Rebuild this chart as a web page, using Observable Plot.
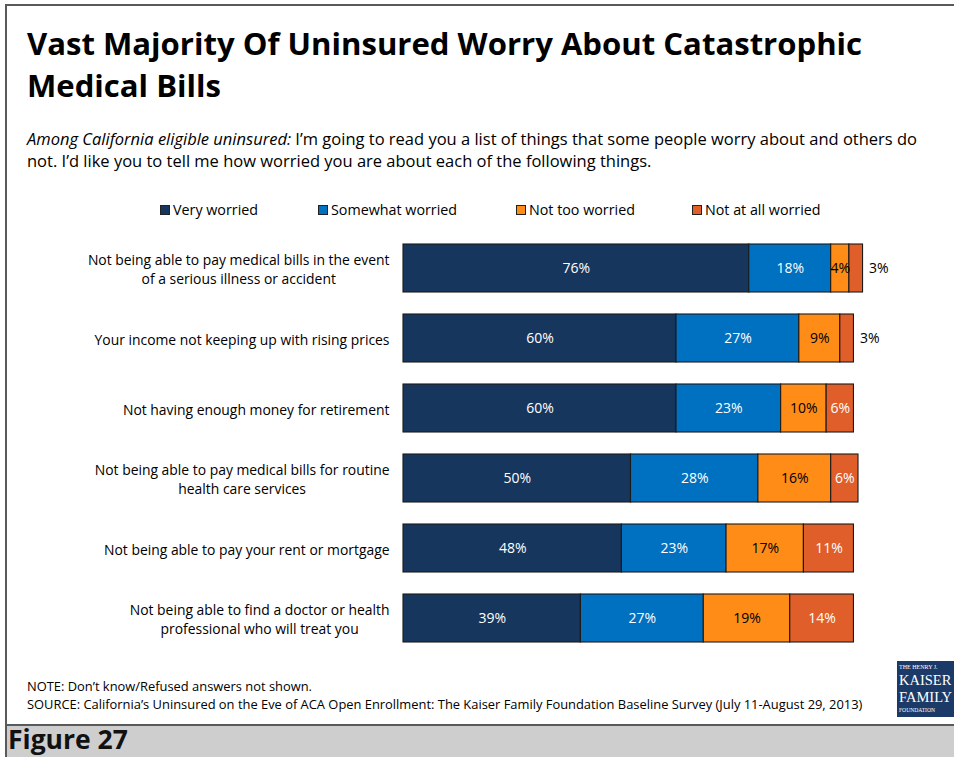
<!DOCTYPE html>
<html>
<head>
<meta charset="utf-8">
<script src="https://cdn.jsdelivr.net/npm/d3@7"></script>
<script src="https://cdn.jsdelivr.net/npm/@observablehq/plot@0.6"></script>
<style>
  html, body { margin: 0; padding: 0; background: #fff; }
  body { width: 954px; height: 757px; position: relative; overflow: hidden; font-family: "Open Sans", Lato, sans-serif; color: #000; }
  .abs { position: absolute; white-space: nowrap; }
  #frame { position: absolute; left: 5px; top: 4px; width: 960px; height: 718px; border: 2px solid #5a5a5a; box-sizing: content-box; }
  #footer { position: absolute; left: 5px; top: 724px; width: 960px; height: 33px; background: #cecece; border-left: 2px solid #5a5a5a; border-top: 2px solid #5a5a5a; }
  #title { left: 27px; top: 22px; font-weight: 700; font-size: 31.1px; line-height: 42px; }
  .sub { left: 27px; font-size: 16.5px; line-height: 22px; }
  #legend { position: absolute; left: 0; top: 200px; width: 954px; height: 20px; font-size: 14.3px; }
  .lg { position: absolute; top: 0; line-height: 20px; white-space: nowrap; }
  .sw { display: inline-block; width: 8px; height: 8px; border: 1px solid #222; margin-right: 3px; vertical-align: 0px; }
  #chart { position: absolute; left: 0; top: 233px; }
  .note { left: 27px; font-size: 12.9px; line-height: 18px; }
  #logo { position: absolute; left: 897px; top: 661px; width: 57px; height: 56px; background: #1b3a68; color: #fff; font-family: "Liberation Serif", "DejaVu Serif", serif; overflow: hidden; }
  #logo div { position: absolute; left: 2px; white-space: nowrap; }
  #fig { left: 8px; top: 724px; font-size: 26.5px; font-weight: 700; line-height: 30px; color: #111; }
</style>
</head>
<body>
<div id="frame"></div>
<div id="footer"></div>
<div id="title" class="abs">Vast Majority Of Uninsured Worry About Catastrophic<br>Medical Bills</div>
<div class="abs sub" style="top:128px"><i>Among California eligible uninsured:</i> I’m going to read you a list of things that some people worry about and others do</div>
<div class="abs sub" style="top:150px">not. I’d like you to tell me how worried you are about each of the following things.</div>
<div id="legend"></div>
<div id="chart"></div>
<div class="abs note" style="top:677px">NOTE: Don’t know/Refused answers not shown.</div>
<div class="abs note" style="top:695px">SOURCE: California’s Uninsured on the Eve of ACA Open Enrollment: The Kaiser Family Foundation Baseline Survey (July 11-August 29, 2013)</div>
<div id="logo">
  <div style="top:2px;font-size:6px;line-height:8px">THE HENRY J.</div>
  <div style="top:10px;font-size:14.5px;line-height:18px">KAISER</div>
  <div style="top:27px;font-size:14.5px;line-height:18px">FAMILY</div>
  <div style="top:45px;font-size:5.6px;line-height:8px">FOUNDATION</div>
</div>
<div id="fig" class="abs">Figure 27</div>
<script>
// ---- data ----
const questions = [
  "Not being able to pay medical bills in the event\nof a serious illness or accident",
  "Your income not keeping up with rising prices",
  "Not having enough money for retirement",
  "Not being able to pay medical bills for routine\nhealth care services",
  "Not being able to pay your rent or mortgage",
  "Not being able to find a doctor or health\nprofessional who will treat you"
];
const seriesNames = ["Very worried", "Somewhat worried", "Not too worried", "Not at all worried"];
const veryWorried     = [76, 60, 60, 50, 48, 39];
const somewhatWorried = [18, 27, 23, 28, 23, 27];
const notTooWorried   = [4, 9, 10, 16, 17, 19];
const notAtAllWorried = [3, 3, 6, 6, 11, 14];
const seriesColors = ["#17365d", "#0070c0", "#ff8c17", "#df5e29"];
const labelColors  = ["#ffffff", "#ffffff", "#000000", "#ffffff"];

const seriesValues = [veryWorried, somewhatWorried, notTooWorried, notAtAllWorried];
const data = [];
questions.forEach((q, i) => {
  seriesNames.forEach((s, j) => {
    data.push({question: q, series: s, value: seriesValues[j][i], labelColor: labelColors[j]});
  });
});

// ---- legend ----
const legendX = [160, 318, 516, 692];
const legend = document.getElementById("legend");
seriesNames.forEach((s, j) => {
  const el = document.createElement("div");
  el.className = "lg";
  el.style.left = legendX[j] + "px";
  el.innerHTML = `<span class="sw" style="background:${seriesColors[j]}"></span>${s}`;
  legend.appendChild(el);
});

// ---- chart ----
const chart = Plot.plot({
  width: 954,
  height: 420,
  marginLeft: 403,
  marginRight: 96,
  marginTop: 0,
  marginBottom: 0,
  style: {fontFamily: "'Open Sans', Lato, sans-serif", fontSize: "13.9px", color: "#000", background: "transparent"},
  x: {domain: [0, 100], axis: null},
  y: {domain: questions, paddingInner: 0.314, paddingOuter: 0.157, label: null},
  color: {domain: seriesNames, range: seriesColors},
  marks: [
    Plot.axisY({tickSize: 0, tickPadding: 14, lineHeight: 1.37, fontSize: 13.9, fill: "#000"}),
    Plot.barX(data, Plot.stackX({x: "value", y: "question", fill: "series", z: "series", order: seriesNames, stroke: "#1a1a1a", strokeWidth: 1.1})),
    Plot.text(data, Plot.stackX({x: "value", y: "question", z: "series", order: seriesNames,
      text: d => d.value > 3 ? `${d.value}%` : "", fill: "labelColor", fontSize: 14})),
    Plot.text(data, Plot.stackX2({x: "value", y: "question", z: "series", order: seriesNames,
      text: d => d.value <= 3 ? `${d.value}%` : "", fill: "#000", fontSize: 14, textAnchor: "start", dx: 6}))
  ]
});
document.getElementById("chart").appendChild(chart);

// center multi-line category labels as a block, right-aligned to the axis
chart.querySelectorAll('g[aria-label="y-axis tick label"] text').forEach(t => {
  const spans = t.querySelectorAll("tspan");
  if (spans.length < 2) return;
  const W = Math.max(...Array.from(spans, s => s.getComputedTextLength()));
  t.setAttribute("text-anchor", "middle");
  spans.forEach(s => s.setAttribute("x", -W / 2));
});
</script>
</body>
</html>
